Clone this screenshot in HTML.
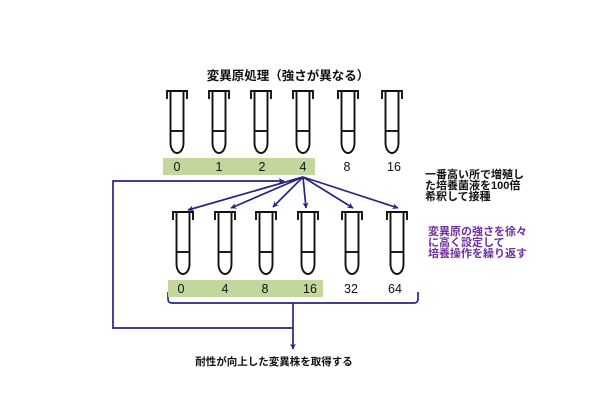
<!DOCTYPE html>
<html>
<head>
<meta charset="utf-8">
<style>
  html,body{margin:0;padding:0;background:#fff;}
  svg{display:block;}
  .jp{font-family:"Liberation Sans","Noto Sans CJK JP",sans-serif;font-weight:bold;}
  .num{font-family:"Liberation Sans",sans-serif;font-size:12.5px;fill:#111;}
</style>
</head>
<body>
<svg width="606" height="419" viewBox="0 0 606 419" xmlns="http://www.w3.org/2000/svg">
  <defs>
    <marker id="ah" viewBox="0 0 10 10" refX="9" refY="5" markerWidth="6" markerHeight="6" orient="auto" markerUnits="userSpaceOnUse">
      <path d="M0,0 L10,5 L0,10 L3,5 Z" fill="#262680"/>
    </marker>
    <g id="tube" fill="none" stroke="#111" stroke-width="1.9">
      <path d="M-10,8 L-10,0 L10,0 L10,8"/>
      <path d="M-6.5,1 L-6.5,52 A6.5,10 0 0 0 6.5,52 L6.5,1"/>
      <line x1="-6.5" y1="40" x2="6.5" y2="40"/>
    </g>
  </defs>

  <rect width="606" height="419" fill="#fff"/>

  <!-- Title -->
  <text x="288" y="80" text-anchor="middle" class="jp" font-size="12.5" fill="#111">変異原処理（強さが異なる）</text>

  <!-- Top row tubes -->
  <use href="#tube" x="177" y="91"/>
  <use href="#tube" x="219" y="91"/>
  <use href="#tube" x="261" y="91"/>
  <use href="#tube" x="303" y="91"/>
  <use href="#tube" x="348" y="91"/>
  <use href="#tube" x="392" y="91"/>

  <!-- Top green band -->
  <rect x="163" y="158" width="152" height="17" fill="#C3D69B"/>
  <text class="num" x="177" y="171" text-anchor="middle">0</text>
  <text class="num" x="219" y="171" text-anchor="middle">1</text>
  <text class="num" x="262" y="171" text-anchor="middle">2</text>
  <text class="num" x="303" y="171" text-anchor="middle">4</text>
  <text class="num" x="347" y="171" text-anchor="middle">8</text>
  <text class="num" x="394" y="171" text-anchor="middle">16</text>

  <!-- Fan arrows -->
  <g stroke="#262680" stroke-width="1.7" fill="none" marker-end="url(#ah)">
    <line x1="303" y1="177" x2="188" y2="210"/>
    <line x1="303" y1="177" x2="231" y2="208"/>
    <line x1="303" y1="177" x2="273" y2="207"/>
    <line x1="303" y1="177" x2="306" y2="208"/>
    <line x1="303" y1="177" x2="353" y2="208"/>
    <line x1="303" y1="177" x2="398" y2="208"/>
  </g>

  <!-- Loop back line -->
  <g stroke="#262680" stroke-width="1.7" fill="none">
    <polyline points="293,328 113,328 113,181 284,181" marker-end="url(#ah)"/>
    <line x1="293" y1="303" x2="293" y2="349" marker-end="url(#ah)"/>
    <path d="M168,292 L168,299 Q168,303 172,303 L414,303 Q418,303 418,299 L418,292"/>
  </g>

  <!-- Second row tubes -->
  <use href="#tube" x="183" y="212"/>
  <use href="#tube" x="225" y="212"/>
  <use href="#tube" x="266" y="212"/>
  <use href="#tube" x="308" y="212"/>
  <use href="#tube" x="352" y="212"/>
  <use href="#tube" x="397" y="212"/>

  <!-- Second green band -->
  <rect x="168" y="280" width="155" height="17" fill="#C3D69B"/>
  <text class="num" x="181" y="293" text-anchor="middle">0</text>
  <text class="num" x="225" y="293" text-anchor="middle">4</text>
  <text class="num" x="265" y="293" text-anchor="middle">8</text>
  <text class="num" x="310" y="293" text-anchor="middle">16</text>
  <text class="num" x="351" y="293" text-anchor="middle">32</text>
  <text class="num" x="395" y="293" text-anchor="middle">64</text>

  <!-- Right black text -->
  <g class="jp" font-size="11" fill="#111">
    <text x="425" y="178">一番高い所で増殖し</text>
    <text x="425" y="189">た培養菌液を100倍</text>
    <text x="425" y="200">希釈して接種</text>
  </g>

  <!-- Right purple text -->
  <g class="jp" font-size="11" fill="#7030A0">
    <text x="428" y="235">変異原の強さを徐々</text>
    <text x="428" y="246">に高く設定して</text>
    <text x="428" y="257">培養操作を繰り返す</text>
  </g>

  <!-- Bottom text -->
  <text x="274" y="365" text-anchor="middle" class="jp" font-size="10.5" fill="#111">耐性が向上した変異株を取得する</text>
</svg>
</body>
</html>
